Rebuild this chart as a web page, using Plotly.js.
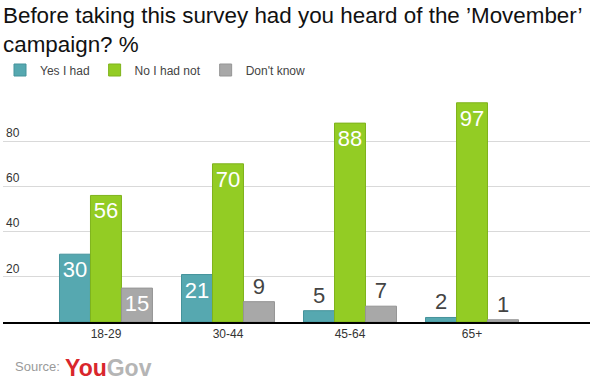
<!DOCTYPE html>
<html>
<head>
<meta charset="utf-8">
<script src="https://cdn.plot.ly/plotly-3.0.1.min.js"></script>
<style>html,body{margin:0;padding:0;background:#fff;}#chart{width:600px;height:385px;}</style>
</head>
<body>
<div id="chart"></div>
<script>
const categories = ["18-29", "30-44", "45-64", "65+"];
const seriesNames = ["Yes I had", "No I had not", "Don't know"];
const yesHad = [30, 21, 5, 2];
const noHadNot = [56, 70, 88, 97];
const dontKnow = [15, 9, 7, 1];
const yTicks = [20, 40, 60, 80];
const titleText = "Before taking this survey had you heard of the ’Movember’<br>campaign? %";

const colors = ["#56a8b0", "#93cc24", "#a8a8a8"];
const borders = ["#45939b", "#7fb31c", "#959595"];
const allValues = [yesHad, noHadNot, dontKnow];
const xIdx = categories.map((c, i) => i);

const traces = allValues.map((vals, s) => ({
  type: "bar",
  name: seriesNames[s],
  x: xIdx,
  y: vals,
  text: vals.map(String),
  textposition: vals.map(v => v >= 12 ? "inside" : "outside"),
  insidetextanchor: "end",
  constraintext: "none",
  cliponaxis: false,
  textfont: { family: "Liberation Sans, Arial, sans-serif", size: 22 },
  insidetextfont: { family: "Liberation Sans, Arial, sans-serif", size: 22, color: "#ffffff" },
  outsidetextfont: { family: "Liberation Sans, Arial, sans-serif", size: 22, color: "#444444" },
  marker: { color: colors[s], line: { color: borders[s], width: 1 } },
  hoverinfo: "none"
}));

const layout = {
  width: 600,
  height: 385,
  margin: { l: 3, r: 10, t: 96, b: 63 },
  paper_bgcolor: "#ffffff",
  plot_bgcolor: "#ffffff",
  font: { family: "Liberation Sans, Arial, sans-serif", color: "#333333", size: 12 },
  title: {
    text: titleText,
    font: { family: "Liberation Sans, Arial, sans-serif", size: 22.4, color: "#111111" },
    xref: "container", yref: "container",
    x: 0.005, xanchor: "left",
    y: 0.94, yanchor: "top"
  },
  showlegend: true,
  legend: {
    orientation: "h",
    xref: "container", yref: "container",
    x: 0, xanchor: "left",
    y: 1 - 70 / 385, yanchor: "middle",
    font: { family: "Liberation Sans, Arial, sans-serif", size: 12, color: "#444444" },
    traceorder: "normal",
    itemclick: false
  },
  barmode: "group",
  bargap: 0.238,
  bargroupgap: 0,
  xaxis: {
    range: [-0.844, 3.967],
    tickmode: "array",
    tickvals: xIdx,
    ticktext: categories,
    showgrid: false,
    zeroline: false,
    showline: true,
    linecolor: "#000000",
    linewidth: 2,
    ticks: "",
    tickfont: { size: 12, color: "#333333" },
    fixedrange: true
  },
  yaxis: {
    range: [0, 100],
    tickmode: "array",
    tickvals: yTicks,
    ticktext: yTicks.map(String),
    ticklabelposition: "inside top",
    showgrid: true,
    gridcolor: "#d9d9d9",
    gridwidth: 1,
    zeroline: false,
    showline: false,
    ticks: "",
    tickfont: { size: 12, color: "#333333" },
    fixedrange: true
  },
  annotations: [
    {
      xref: "paper", yref: "paper", x: 13 / 600 - 3 / 587, y: -(376 - 322) / 226,
      xanchor: "left", yanchor: "bottom", showarrow: false,
      text: "Source:",
      font: { family: "Liberation Sans, Arial, sans-serif", size: 13, color: "#9a9a9a" }
    },
    {
      xref: "paper", yref: "paper", x: 60 / 587, y: -(383 - 322) / 226,
      xanchor: "left", yanchor: "bottom", showarrow: false,
      text: "<b><span style='color:#d9262c'>You</span><span style='color:#b5b5b5'>Gov</span></b>",
      font: { family: "Liberation Sans, Arial, sans-serif", size: 23, color: "#b5b5b5" }
    }
  ]
};

Plotly.newPlot("chart", traces, layout, { displayModeBar: false, staticPlot: true });
</script>
</body>
</html>
